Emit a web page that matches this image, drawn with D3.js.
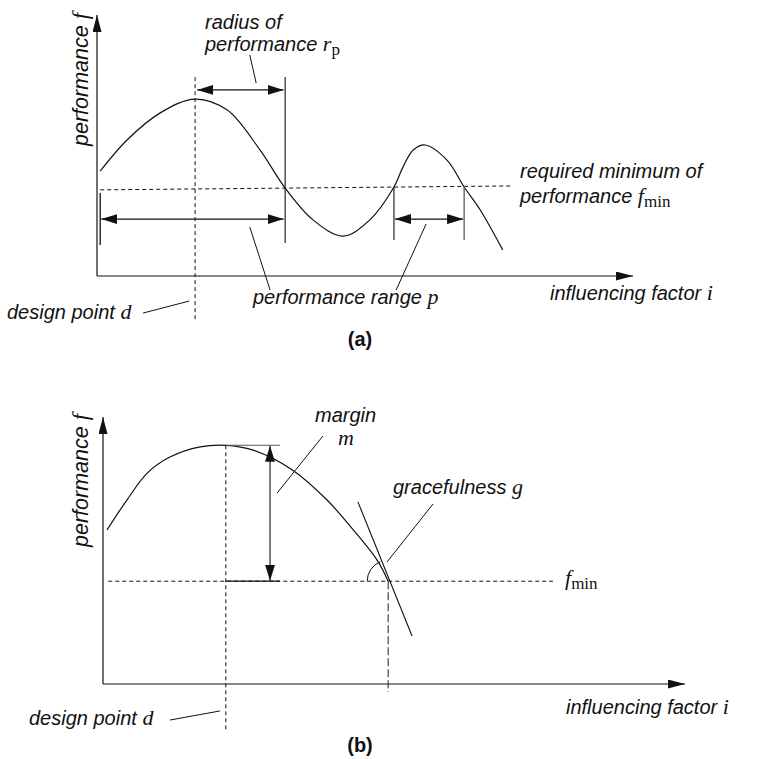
<!DOCTYPE html>
<html>
<head>
<meta charset="utf-8">
<script src="https://cdn.jsdelivr.net/npm/d3@7"></script>
<style>
  html, body { margin: 0; padding: 0; background: #fff; }
  svg { display: block; }
  .lbl { font-family: "Liberation Sans", Arial, sans-serif; font-style: italic; font-size: 20px; fill: #111; }
  .ylbl { font-size: 21.5px; }
  .math { font-family: "Liberation Serif", "Times New Roman", serif; font-style: italic; }
  .rm { font-family: "Liberation Serif", "Times New Roman", serif; font-style: normal; }
  .cap { font-family: "Liberation Sans", Arial, sans-serif; font-weight: bold; font-size: 20px; fill: #111; }
</style>
</head>
<body>
<svg id="chart" width="763" height="759"></svg>
<script>
// ---------------- DATA (abstract units 0..100 on both axes) ----------------
// Panel (a): performance curve
const curveAx = [0.6, 5.6, 11.8, 18.3, 24.3, 30.4, 35.1, 40.3, 45.9, 50.9, 55.4, 57.1, 59.0, 61.2, 65.3, 68.5, 71.5, 75.7];
const curveAy = [40.2, 52.1, 62.5, 67.8, 63.6, 48.3, 33.7, 21.5, 15.3, 21.5, 34.1, 41.8, 48.3, 50.2, 44.4, 34.1, 25.3, 10.0];
const fminAx = [0.6, 77.1];
const fminAy = [33.0, 34.5];
const designA = 18.3;          // design point d
const radiusEndA = 35.1;       // first crossing (radius of performance)
const leftStartA = 0.6;        // start of range
const range2A = [55.4, 68.5];  // second performance range
const arrowLevelsA = [71.3, 21.8]; // radius arrow, range arrows
// Panel (b): performance curve
const curveBx = [0.7, 4.1, 7.6, 11.5, 16.7, 21.1, 25.8, 32.6, 38.5, 43.0, 47.1, 49.0];
const curveBy = [57.7, 68.9, 79.0, 85.0, 88.8, 89.4, 87.6, 80.1, 68.9, 57.7, 46.4, 38.5];
const fminB = 38.5;
const peakB = 89.4;
const designB = 21.1;
const marginXB = 28.7;
const crossB = 49.0;
const tangentBx = [43.8, 53.1];
const tangentBy = [68.2, 18.0];

// text labels
const axisLabelsY = ["performance ", "f"];
const axisLabelsX = ["influencing factor ", "i"];
const designLabel = ["design point ", "d"];
const captions = ["(a)", "(b)"];

// ---------------- LAYOUT ----------------
const svg = d3.select("#chart");
const ink = "#111";

const defs = svg.append("defs");
defs.append("marker").attr("id", "ah")
  .attr("markerUnits", "userSpaceOnUse")
  .attr("viewBox", "0 0 16 10").attr("refX", 16).attr("refY", 5)
  .attr("markerWidth", 16).attr("markerHeight", 10)
  .attr("orient", "auto-start-reverse")
  .append("path").attr("d", "M0,0 L16,5 L0,10 Z").attr("fill", ink);
defs.append("marker").attr("id", "axh")
  .attr("markerUnits", "userSpaceOnUse")
  .attr("viewBox", "0 0 17 9").attr("refX", 17).attr("refY", 4.5)
  .attr("markerWidth", 17).attr("markerHeight", 9)
  .attr("orient", "auto")
  .append("path").attr("d", "M0,0 L17,4.5 L0,9 Z").attr("fill", ink);

function seg(g, sx, sy, x1, y1, x2, y2, opts = {}) {
  const l = g.append("line")
    .attr("x1", sx(x1)).attr("y1", sy(y1)).attr("x2", sx(x2)).attr("y2", sy(y2))
    .attr("stroke", opts.color || ink).attr("stroke-width", opts.w || 1.1)
    .attr("fill", "none");
  if (opts.dash) l.attr("stroke-dasharray", opts.dash);
  if (opts.start) l.attr("marker-start", "url(#" + opts.start + ")");
  if (opts.end) l.attr("marker-end", "url(#" + opts.end + ")");
  return l;
}

function richText(g, x, y, parts, anchor) {
  const t = g.append("text").attr("class", "lbl").attr("x", x).attr("y", y);
  if (anchor) t.attr("text-anchor", anchor);
  parts.forEach(p => {
    const s = t.append("tspan").text(p.t);
    if (p.c) s.attr("class", p.c);
    if (p.dy) s.attr("dy", p.dy);
    if (p.fs) s.attr("font-size", p.fs);
  });
  return t;
}

function axes(g, sx, sy, yTop, xEnd) {
  seg(g, sx, sy, 0, 0, 0, yTop, { end: "axh", w: 1.2 });
  seg(g, sx, sy, 0, 0, xEnd, 0, { end: "axh", w: 1.2 });
}

const line = (sx, sy) => d3.line().x(d => sx(d[0])).y(d => sy(d[1])).curve(d3.curveCatmullRom.alpha(0.5));

// ================= PANEL (a) =================
{
  const sx = d3.scaleLinear().domain([0, 100]).range([97, 633]);
  const sy = d3.scaleLinear().domain([0, 100]).range([276, 15]);
  const g = svg.append("g");

  axes(g, sx, sy, 100, 100);

  g.append("path").datum(d3.zip(curveAx, curveAy))
    .attr("d", line(sx, sy)).attr("fill", "none").attr("stroke", ink).attr("stroke-width", 1.2);

  seg(g, sx, sy, fminAx[0], fminAy[0], fminAx[1], fminAy[1], { dash: "4,3", w: 1 });
  seg(g, sx, sy, designA, 76.2, designA, -17.6, { dash: "4,3", w: 1 });

  seg(g, sx, sy, radiusEndA, 76.2, radiusEndA, 12.6);
  seg(g, sx, sy, leftStartA, 31.8, leftStartA, 11.9, { w: 1.3 });
  seg(g, sx, sy, range2A[0], 34.1, range2A[0], 13.8);
  seg(g, sx, sy, range2A[1], 34.1, range2A[1], 13.8, { color: "#666", w: 1.4 });

  seg(g, sx, sy, designA + 0.4, arrowLevelsA[0], radiusEndA - 0.3, arrowLevelsA[0], { start: "ah", end: "ah" });
  seg(g, sx, sy, leftStartA + 0.2, arrowLevelsA[1], radiusEndA - 0.3, arrowLevelsA[1], { start: "ah", end: "ah" });
  seg(g, sx, sy, range2A[0] + 0.2, arrowLevelsA[1], range2A[1] - 0.2, arrowLevelsA[1], { start: "ah", end: "ah" });

  seg(g, sx, sy, 28.5, 84.7, 29.7, 73.9, { w: 1 });
  seg(g, sx, sy, 28.5, 18.8, 32.3, -5.4, { w: 1 });
  seg(g, sx, sy, 61.4, 19.9, 55.8, -5.4, { w: 1 });
  seg(g, sx, sy, 8.6, -14.2, 17.2, -9.6, { w: 1 });

  richText(g, 205, 29, [{ t: "radius of" }]);
  richText(g, 205, 51, [{ t: "performance " }, { t: "r", c: "math", fs: 22 }, { t: "p", c: "rm", dy: 4, fs: 17 }]);
  richText(g, 520, 178, [{ t: "required minimum of" }]);
  richText(g, 520, 203, [{ t: "performance " }, { t: "f", c: "math", fs: 22 }, { t: "min", c: "rm", dy: 4, fs: 17 }]);
  richText(g, 253, 304, [{ t: "performance range " }, { t: "p", c: "math", fs: 22 }]);
  richText(g, 550, 300, [{ t: axisLabelsX[0] }, { t: axisLabelsX[1], c: "math", fs: 22 }]);
  richText(g, 7, 319, [{ t: designLabel[0] }, { t: designLabel[1], c: "math", fs: 22 }]);
  richText(g, 0, 0, [{ t: axisLabelsY[0] }, { t: axisLabelsY[1], c: "math", fs: 23 }])
    .classed("ylbl", true).attr("transform", "translate(88,146) rotate(-90)");
  g.append("text").attr("class", "cap").attr("x", 360).attr("y", 346).attr("text-anchor", "middle").text(captions[0]);
}

// ================= PANEL (b) =================
{
  const sx = d3.scaleLinear().domain([0, 100]).range([103, 685]);
  const sy = d3.scaleLinear().domain([0, 100]).range([684, 417]);
  const g = svg.append("g");

  axes(g, sx, sy, 100, 100);

  g.append("path").datum(d3.zip(curveBx, curveBy))
    .attr("d", line(sx, sy)).attr("fill", "none").attr("stroke", ink).attr("stroke-width", 1.2);

  seg(g, sx, sy, 0.9, fminB, 77.3, fminB, { dash: "4,3", w: 1 });
  seg(g, sx, sy, designB, peakB, designB, -17.2, { dash: "4,3", w: 1 });
  seg(g, sx, sy, crossB, fminB, crossB, -3.0, { dash: "8,3", w: 1.1, color: "#333" });
  seg(g, sx, sy, designB, peakB, 30.4, peakB, { color: "#555" });
  seg(g, sx, sy, designB, fminB, 30.4, fminB, { w: 1.2 });
  seg(g, sx, sy, marginXB, peakB - 0.2, marginXB, fminB + 0.2, { start: "ah", end: "ah" });
  seg(g, sx, sy, tangentBx[0], tangentBy[0], tangentBx[1], tangentBy[1], { w: 1.1 });
  {
    const cx = sx(crossB), cy = sy(fminB);
    const a1 = Math.atan2(sy(tangentBy[0]) - sy(tangentBy[1]), sx(tangentBx[0]) - sx(tangentBx[1])) + 2 * Math.PI;
    const p = d3.path();
    p.arc(cx, cy, 21, Math.PI, a1, false);
    g.append("path").attr("d", p.toString()).attr("fill", "none").attr("stroke", ink).attr("stroke-width", 1);
  }
  seg(g, sx, sy, 29.9, 71.5, 37.8, 92.9, { w: 1 });
  seg(g, sx, sy, 48.8, 45.7, 56.7, 67.4, { w: 1 });
  seg(g, sx, sy, 11.5, -13.5, 20.1, -10.1, { w: 1 });

  richText(g, 315, 422, [{ t: "margin" }]);
  richText(g, 338, 445, [{ t: "m", c: "math", fs: 22 }]);
  richText(g, 393, 494, [{ t: "gracefulness " }, { t: "g", c: "math", fs: 22 }]);
  richText(g, 565, 585, [{ t: "f", c: "math", fs: 22 }, { t: "min", c: "rm", dy: 4, fs: 17 }]);
  richText(g, 566, 714, [{ t: axisLabelsX[0] }, { t: axisLabelsX[1], c: "math", fs: 22 }]);
  richText(g, 29, 725, [{ t: designLabel[0] }, { t: designLabel[1], c: "math", fs: 22 }]);
  richText(g, 0, 0, [{ t: axisLabelsY[0] }, { t: axisLabelsY[1], c: "math", fs: 23 }])
    .classed("ylbl", true).attr("transform", "translate(88,547) rotate(-90)");
  g.append("text").attr("class", "cap").attr("x", 360).attr("y", 752).attr("text-anchor", "middle").text(captions[1]);
}
</script>
</body>
</html>
